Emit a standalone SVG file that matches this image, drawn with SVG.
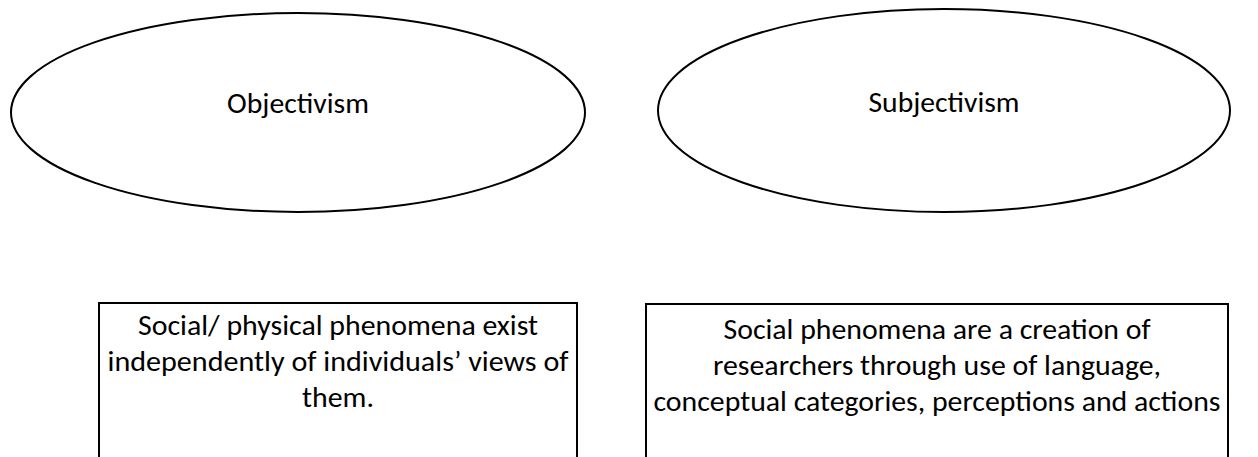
<svg xmlns="http://www.w3.org/2000/svg" width="1258" height="457" viewBox="0 0 1258 457">
  <style>
    .shape { fill: #ffffff; stroke: #000000; stroke-width: 2; }
    .label { font-family: "Carlito", "Lato", "Open Sans", sans-serif; font-size: 29px; fill: #000000; text-anchor: middle; }
  </style>
  <rect x="0" y="0" width="1258" height="457" fill="#ffffff"/>

  <!-- ontology positions -->
  <g id="objectivism">
    <ellipse class="shape" cx="298" cy="112.5" rx="287" ry="99.5"/>
    <text class="label" x="298" y="113" textLength="142" lengthAdjust="spacingAndGlyphs">Objectivism</text>
  </g>
  <g id="subjectivism">
    <ellipse class="shape" cx="944" cy="110.5" rx="286" ry="101.5"/>
    <text class="label" x="944" y="112" textLength="151" lengthAdjust="spacingAndGlyphs">Subjectivism</text>
  </g>

  <!-- descriptions (boxes run past the bottom edge) -->
  <g id="objectivism-desc">
    <path class="shape" d="M99,470 V303 H577 V470"/>
    <text class="label" x="338" y="335" textLength="400" lengthAdjust="spacingAndGlyphs">Social/ physical phenomena exist</text>
    <text class="label" x="338" y="371" textLength="461" lengthAdjust="spacingAndGlyphs">independently of individuals’ views  of</text>
    <text class="label" x="338" y="407" textLength="72" lengthAdjust="spacingAndGlyphs">them.</text>
  </g>
  <g id="subjectivism-desc">
    <path class="shape" d="M646,470 V304 H1228 V470"/>
    <text class="label" x="937" y="339" textLength="427" lengthAdjust="spacingAndGlyphs">Social phenomena are a creation of</text>
    <text class="label" x="937" y="375" textLength="448" lengthAdjust="spacingAndGlyphs">researchers through use of language,</text>
    <text class="label" x="937" y="411" textLength="567" lengthAdjust="spacingAndGlyphs">conceptual categories, perceptions and actions</text>
  </g>

  <g id="connectors"/>
</svg>
